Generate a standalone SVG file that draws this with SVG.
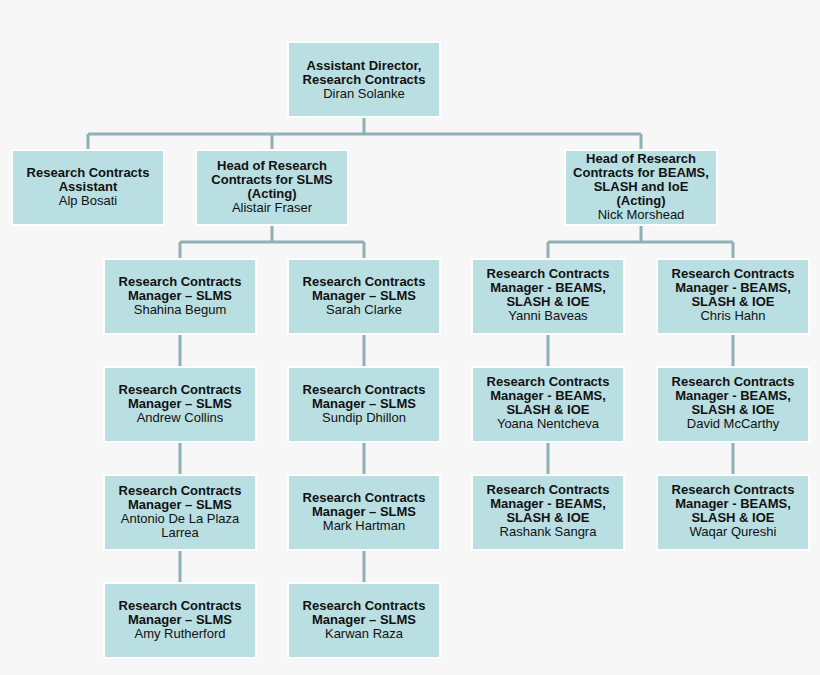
<svg xmlns="http://www.w3.org/2000/svg" width="820" height="675" viewBox="0 0 820 675">
<style>
.b{fill:#b9dfe2;stroke:#ffffff;stroke-width:2}
text{font-family:"Liberation Sans",Arial,sans-serif;font-size:13px;fill:#111;text-anchor:middle}
.t{font-weight:bold}
.c{stroke:#8fb0b5;stroke-width:3;fill:none}
</style>
<rect width="820" height="675" fill="#f7f7f7"/>
<g id="connectors" class="c">
<path d="M364 117V134M88 134H641M88 134V150M272 134V150M641 134V150"/>
<path d="M272 225V242M180 242H364M180 242V259M364 242V259"/>
<path d="M180 334V367M180 442V475M180 550V583M364 334V367M364 442V475M364 550V583"/>
<path d="M641 225V242M548 242H733M548 242V259M733 242V259"/>
<path d="M548 334V367M548 442V475M733 334V367M733 442V475"/>
</g>
<g id="n0"><rect class="b" x="288" y="42" width="152" height="75"/><text x="364" y="70"><tspan class="t">Assistant Director,</tspan><tspan class="t" x="364" dy="14">Research Contracts</tspan><tspan x="364" dy="14">Diran Solanke</tspan></text></g>
<g id="n1"><rect class="b" x="12" y="150" width="152" height="75"/><text x="88" y="177"><tspan class="t">Research Contracts</tspan><tspan class="t" x="88" dy="14">Assistant</tspan><tspan x="88" dy="14">Alp Bosati</tspan></text></g>
<g id="n2"><rect class="b" x="196" y="150" width="152" height="75"/><text x="272" y="170"><tspan class="t">Head of Research</tspan><tspan class="t" x="272" dy="14">Contracts for SLMS</tspan><tspan class="t" x="272" dy="14">(Acting)</tspan><tspan x="272" dy="14">Alistair Fraser</tspan></text></g>
<g id="n3"><rect class="b" x="565" y="150" width="152" height="75"/><text x="641" y="163"><tspan class="t">Head of Research</tspan><tspan class="t" x="641" dy="14">Contracts for BEAMS,</tspan><tspan class="t" x="641" dy="14">SLASH and IoE</tspan><tspan class="t" x="641" dy="14">(Acting)</tspan><tspan x="641" dy="14">Nick Morshead</tspan></text></g>
<g id="s1"><rect class="b" x="104" y="259" width="152" height="75"/><text x="180" y="286"><tspan class="t">Research Contracts</tspan><tspan class="t" x="180" dy="14">Manager – SLMS</tspan><tspan x="180" dy="14">Shahina Begum</tspan></text></g>
<g id="s2"><rect class="b" x="104" y="367" width="152" height="75"/><text x="180" y="394"><tspan class="t">Research Contracts</tspan><tspan class="t" x="180" dy="14">Manager – SLMS</tspan><tspan x="180" dy="14">Andrew Collins</tspan></text></g>
<g id="s3"><rect class="b" x="104" y="475" width="152" height="75"/><text x="180" y="495"><tspan class="t">Research Contracts</tspan><tspan class="t" x="180" dy="14">Manager – SLMS</tspan><tspan x="180" dy="14">Antonio De La Plaza</tspan><tspan x="180" dy="14">Larrea</tspan></text></g>
<g id="s4"><rect class="b" x="104" y="583" width="152" height="75"/><text x="180" y="610"><tspan class="t">Research Contracts</tspan><tspan class="t" x="180" dy="14">Manager – SLMS</tspan><tspan x="180" dy="14">Amy Rutherford</tspan></text></g>
<g id="s5"><rect class="b" x="288" y="259" width="152" height="75"/><text x="364" y="286"><tspan class="t">Research Contracts</tspan><tspan class="t" x="364" dy="14">Manager – SLMS</tspan><tspan x="364" dy="14">Sarah Clarke</tspan></text></g>
<g id="s6"><rect class="b" x="288" y="367" width="152" height="75"/><text x="364" y="394"><tspan class="t">Research Contracts</tspan><tspan class="t" x="364" dy="14">Manager – SLMS</tspan><tspan x="364" dy="14">Sundip Dhillon</tspan></text></g>
<g id="s7"><rect class="b" x="288" y="475" width="152" height="75"/><text x="364" y="502"><tspan class="t">Research Contracts</tspan><tspan class="t" x="364" dy="14">Manager – SLMS</tspan><tspan x="364" dy="14">Mark Hartman</tspan></text></g>
<g id="s8"><rect class="b" x="288" y="583" width="152" height="75"/><text x="364" y="610"><tspan class="t">Research Contracts</tspan><tspan class="t" x="364" dy="14">Manager – SLMS</tspan><tspan x="364" dy="14">Karwan Raza</tspan></text></g>
<g id="b1"><rect class="b" x="472" y="259" width="152" height="75"/><text x="548" y="278"><tspan class="t">Research Contracts</tspan><tspan class="t" x="548" dy="14">Manager - BEAMS,</tspan><tspan class="t" x="548" dy="14">SLASH &amp; IOE</tspan><tspan x="548" dy="14">Yanni Baveas</tspan></text></g>
<g id="b2"><rect class="b" x="472" y="367" width="152" height="75"/><text x="548" y="386"><tspan class="t">Research Contracts</tspan><tspan class="t" x="548" dy="14">Manager - BEAMS,</tspan><tspan class="t" x="548" dy="14">SLASH &amp; IOE</tspan><tspan x="548" dy="14">Yoana Nentcheva</tspan></text></g>
<g id="b3"><rect class="b" x="472" y="475" width="152" height="75"/><text x="548" y="494"><tspan class="t">Research Contracts</tspan><tspan class="t" x="548" dy="14">Manager - BEAMS,</tspan><tspan class="t" x="548" dy="14">SLASH &amp; IOE</tspan><tspan x="548" dy="14">Rashank Sangra</tspan></text></g>
<g id="b4"><rect class="b" x="657" y="259" width="152" height="75"/><text x="733" y="278"><tspan class="t">Research Contracts</tspan><tspan class="t" x="733" dy="14">Manager - BEAMS,</tspan><tspan class="t" x="733" dy="14">SLASH &amp; IOE</tspan><tspan x="733" dy="14">Chris Hahn</tspan></text></g>
<g id="b5"><rect class="b" x="657" y="367" width="152" height="75"/><text x="733" y="386"><tspan class="t">Research Contracts</tspan><tspan class="t" x="733" dy="14">Manager - BEAMS,</tspan><tspan class="t" x="733" dy="14">SLASH &amp; IOE</tspan><tspan x="733" dy="14">David McCarthy</tspan></text></g>
<g id="b6"><rect class="b" x="657" y="475" width="152" height="75"/><text x="733" y="494"><tspan class="t">Research Contracts</tspan><tspan class="t" x="733" dy="14">Manager - BEAMS,</tspan><tspan class="t" x="733" dy="14">SLASH &amp; IOE</tspan><tspan x="733" dy="14">Waqar Qureshi</tspan></text></g>
</svg>
